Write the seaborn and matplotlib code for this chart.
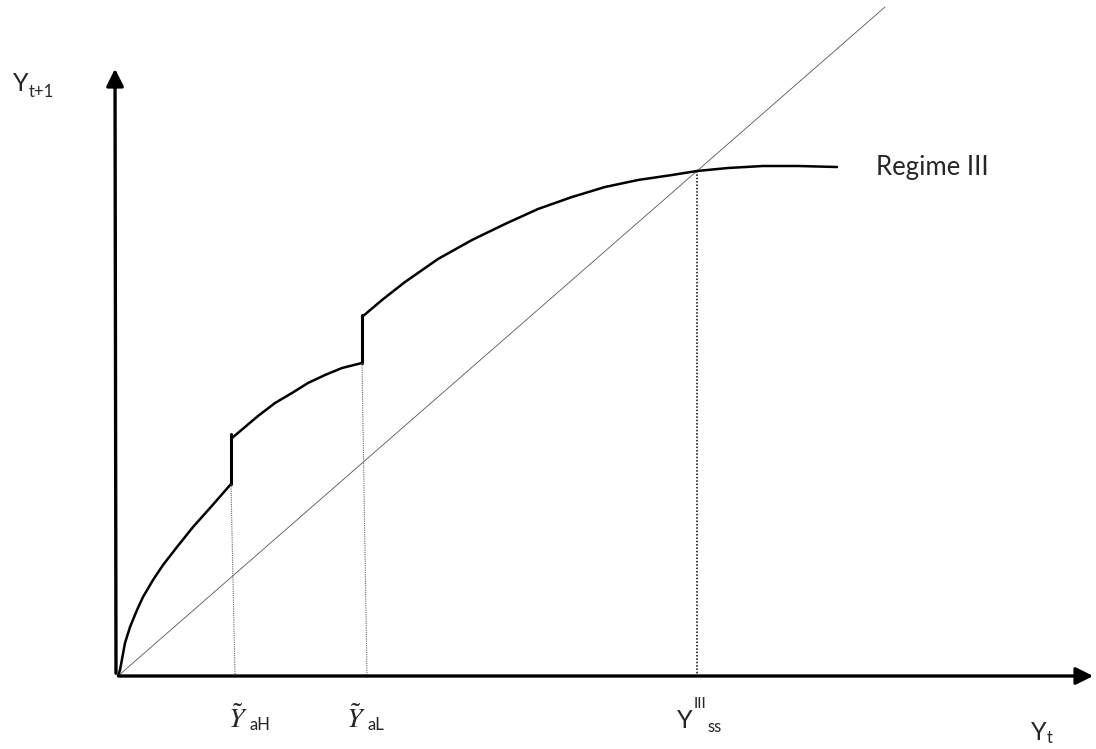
import matplotlib
matplotlib.use("Agg")
import matplotlib.pyplot as plt
import seaborn as sns

sns.set_theme(style="white")
plt.rcParams['font.family'] = ['Lato', 'DejaVu Sans']
plt.rcParams['mathtext.fontset'] = 'stix'

# curve pieces (Y_t, Y_t+1); origin at bottom-left corner of axes
seg1_x = [0, 2, 7, 12, 19, 25, 35, 45, 59, 75, 92, 113]
seg1_y = [0, 6, 33, 49, 66, 79, 96, 111, 129, 149, 168, 192]
seg2_x = [114, 127, 140, 157, 174, 190, 207, 224, 244]
seg2_y = [238, 249, 260, 273, 283, 293, 301, 308, 313]
seg3_x = [244, 264, 287, 320, 354, 387, 420, 454, 487, 520, 554, 579, 610, 645, 680, 719]
seg3_y = [359, 376, 394, 417, 436, 452, 467, 479, 489, 496, 501, 505, 508, 510, 510, 509]

# 45 degree line
diag_x = [0, 767]
diag_y = [0, 669]

# thresholds and steady state
thr_x_top = [113, 244]
thr_y_top = [192, 313]
thr_x_bot = [117, 249]
jump_top = [242, 361]
ss_x = 579
ss_y = 505

fig = plt.figure(figsize=(10.96, 7.49), dpi=100)
ax = fig.add_axes([0, 0, 1, 1])
ax.set_xlim(-118, 978)
ax.set_ylim(-73, 676)
ax.axis('off')

# axes with arrows
ax.annotate('', xy=(978, 0), xytext=(-2, 0),
            arrowprops=dict(arrowstyle='-|>', color='black', lw=2.4, mutation_scale=26))
ax.annotate('', xy=(-3, 610), xytext=(-2, 0),
            arrowprops=dict(arrowstyle='-|>', color='black', lw=2.4, mutation_scale=26))

sns.lineplot(x=diag_x, y=diag_y, ax=ax, color='#555555', lw=0.6)

for xs, ys in [(seg1_x, seg1_y), (seg2_x, seg2_y), (seg3_x, seg3_y)]:
    sns.lineplot(x=xs, y=ys, ax=ax, color='black', lw=1.8, sort=False)

# jumps and threshold guides
for i in range(2):
    ax.plot([thr_x_top[i], thr_x_top[i]], [thr_y_top[i], jump_top[i]], color='black', lw=2.2)
    ax.plot([thr_x_top[i], thr_x_bot[i]], [thr_y_top[i], 0], color='#666666', lw=0.8,
            linestyle=(0, (1, 1)))

ax.plot([ss_x, ss_x], [ss_y, 0], color='black', lw=1.1, linestyle=(0, (1, 1.2)))

# labels
fs = 18
sub = 12
ax.text(-105, 585, 'Y', fontsize=fs, ha='left', va='baseline')
ax.text(-89, 579, 't+1', fontsize=sub, ha='left', va='baseline')
ax.text(758, 509, 'Regime III', fontsize=fs + 0.5, ha='left', va='center')

ax.text(110, -52, r'$\tilde{Y}$', fontsize=fs + 2, ha='left', va='baseline')
ax.text(131, -54, 'aH', fontsize=sub, ha='left', va='baseline')
ax.text(228, -52, r'$\tilde{Y}$', fontsize=fs + 2, ha='left', va='baseline')
ax.text(249, -54, 'aL', fontsize=sub, ha='left', va='baseline')

ax.text(559, -52, 'Y', fontsize=fs, ha='left', va='baseline')
ax.text(576, -32, 'III', fontsize=sub - 1, ha='left', va='baseline')
ax.text(589, -56, 'ss', fontsize=sub, ha='left', va='baseline')

ax.text(913, -64, 'Y', fontsize=fs, ha='left', va='baseline')
ax.text(929, -67, 't', fontsize=sub, ha='left', va='baseline')

fig.savefig('out.png', dpi=100)
